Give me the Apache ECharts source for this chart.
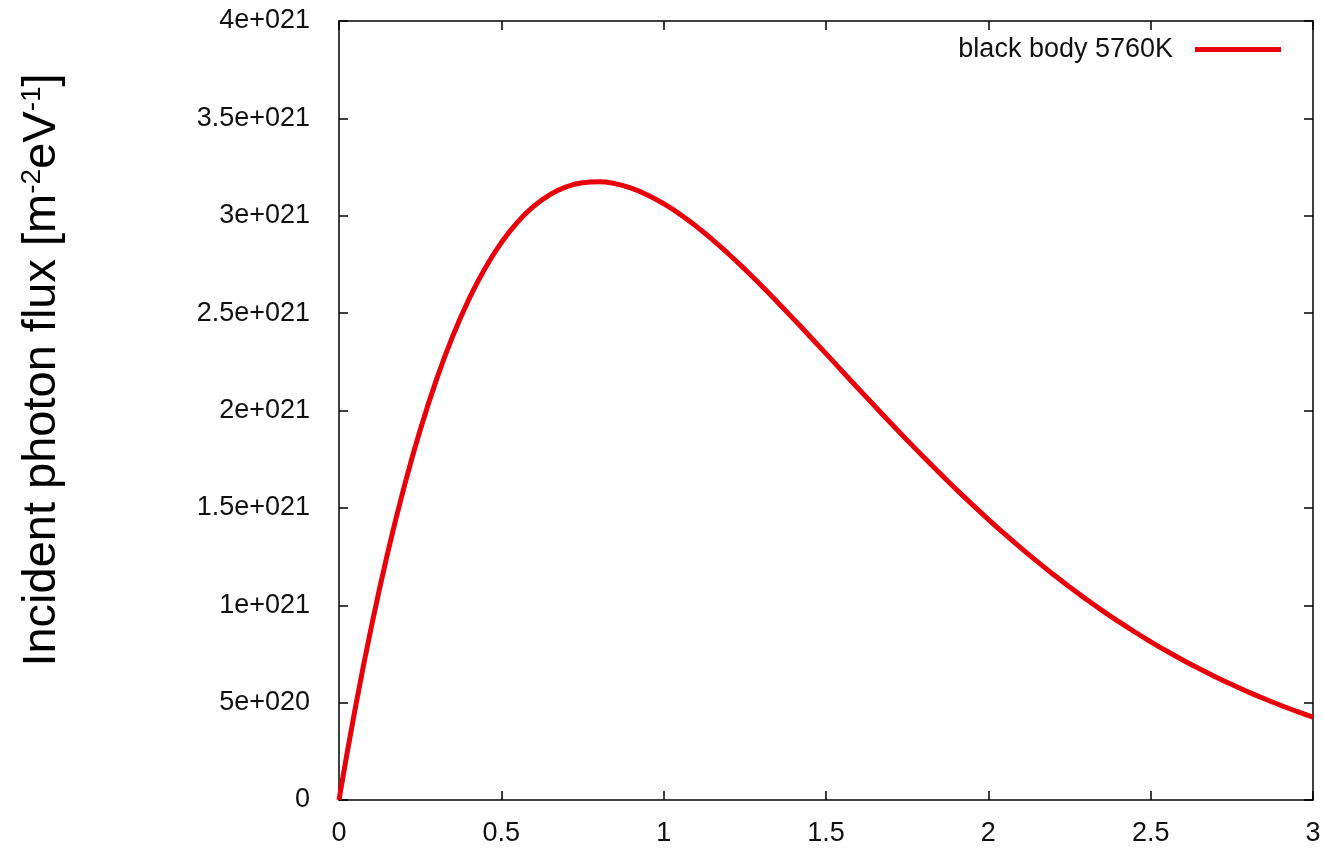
<!DOCTYPE html>
<html>
<head>
<meta charset="utf-8">
<script src="https://cdn.jsdelivr.net/npm/echarts@6/dist/echarts.min.js"></script>
<style>html,body{margin:0;padding:0;background:#fff;}#c{width:1324px;height:848px;}</style>
</head>
<body>
<div id="c"></div>
<script>
// Photon energy (eV)
const energy = [0,0.05,0.1,0.15,0.2,0.25,0.3,0.35,0.4,0.45,0.5,0.55,0.6,0.65,0.7,0.75,0.8,0.85,0.9,0.95,1.0,
  1.05,1.1,1.15,1.2,1.25,1.3,1.35,1.4,1.45,1.5,1.55,1.6,1.65,1.7,1.75,1.8,1.85,1.9,1.95,2.0,
  2.05,2.1,2.15,2.2,2.25,2.3,2.35,2.4,2.45,2.5,2.55,2.6,2.65,2.7,2.75,2.8,2.85,2.9,2.95,3.0];
// Incident photon flux, in units of 1e21 m^-2 eV^-1
const flux = [0,0.4694,0.8916,1.2690,1.6042,1.8995,2.1574,2.3803,2.5705,2.7303,2.8619,2.9675,3.0491,3.1087,3.1482,3.1697,3.1746,3.1648,3.1417,3.1070,3.0620,
  3.0080,2.9462,2.8777,2.8037,2.7252,2.6428,2.5577,2.4703,2.3815,2.2918,2.2019,2.1120,2.0228,1.9345,1.8476,1.7622,1.6787,1.5972,1.5179,1.4409,
  1.3664,1.2944,1.2250,1.1583,1.0942,1.0327,0.9738,0.9176,0.8639,0.8128,0.7641,0.7178,0.6739,0.6322,0.5927,0.5554,0.5201,0.4867,0.4553,0.4256];
const fluxUnit = 1e21;
const seriesName = 'black body 5760K';
const yTitle = 'Incident photon flux [m{s|-2}eV{s|-1}]';
const yTickLabels = ['0','5e+020','1e+021','1.5e+021','2e+021','2.5e+021','3e+021','3.5e+021','4e+021'];
const xTickLabels = ['0','0.5','1','1.5','2','2.5','3'];

const chart = echarts.init(document.getElementById('c'), null, {renderer:'canvas'});
const txt = '#111';
const red = '#e8000b';
const font = 'Liberation Sans, Arial, sans-serif';
const tickStyle = {show:true, inside:true, length:9, lineStyle:{color:'#000', width:1.5}};
const lineStyleAxis = {show:true, onZero:false, lineStyle:{color:'#000', width:1.5}};
const yLabel = v => yTickLabels[Math.round(v / (0.5 * fluxUnit))] ?? '';
const xLabel = v => xTickLabels[Math.round(v / 0.5)] ?? '';
chart.setOption({
  animation:false,
  backgroundColor:'#fff',
  grid:{left:339, top:21, right:11, bottom:48, containLabel:false},
  legend:{
    show:true, right:38, top:31, align:'right', icon:'rect', itemWidth:86, itemHeight:5,
    textStyle:{fontFamily:font, fontSize:27, color:txt, padding:[0,17,0,0]},
    data:[{name:seriesName, itemStyle:{color:red}}]
  },
  graphic:[{
    type:'text', x:42, y:370, rotation:Math.PI/2,
    style:{text:yTitle, fontFamily:font, fontSize:47, fill:'#000', align:'center', verticalAlign:'middle',
      rich:{s:{fontFamily:font, fontSize:28, fill:'#000', verticalAlign:'top', padding:[0,0,20,0]}}}
  }],
  xAxis:[
    {type:'value', min:0, max:3, interval:0.5, position:'bottom',
     axisLine:lineStyleAxis, axisTick:tickStyle, splitLine:{show:false},
     axisLabel:{formatter:xLabel, fontFamily:font, fontSize:27, color:txt, margin:20}},
    {type:'value', min:0, max:3, interval:0.5, position:'top',
     axisLine:lineStyleAxis, axisTick:tickStyle, splitLine:{show:false}, axisLabel:{show:false}}
  ],
  yAxis:[
    {type:'value', min:0, max:4*fluxUnit, interval:0.5*fluxUnit, position:'left',
     axisLine:lineStyleAxis, axisTick:tickStyle, splitLine:{show:false},
     axisLabel:{formatter:yLabel, fontFamily:font, fontSize:27, color:txt, margin:29}},
    {type:'value', min:0, max:4*fluxUnit, interval:0.5*fluxUnit, position:'right',
     axisLine:lineStyleAxis, axisTick:tickStyle, splitLine:{show:false}, axisLabel:{show:false}}
  ],
  series:[{
    name:seriesName, type:'line', smooth:true, showSymbol:false, symbol:'none',
    xAxisIndex:0, yAxisIndex:0,
    lineStyle:{color:red, width:5},
    itemStyle:{color:red},
    data: energy.map((e,i)=>[e, flux[i]*fluxUnit])
  }]
});
</script>
</body>
</html>
